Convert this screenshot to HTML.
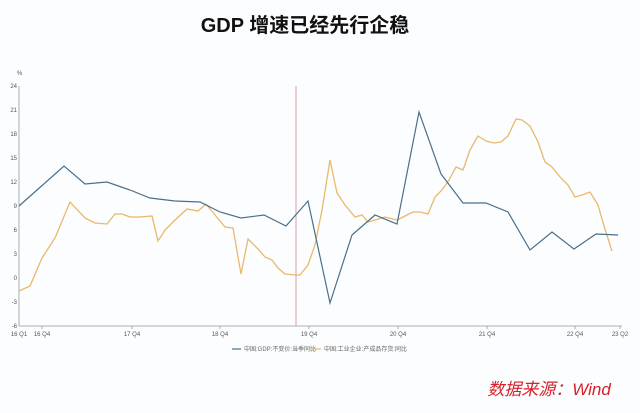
<!DOCTYPE html>
<html><head><meta charset="utf-8"><style>
body{margin:0;width:640px;height:413px;background:#fcfdff;overflow:hidden;font-family:"Liberation Sans","Noto Sans CJK SC",sans-serif}
</style></head><body>
<svg width="640" height="413" xmlns="http://www.w3.org/2000/svg" style="position:absolute;left:0;top:0">
<text x="305" y="32" text-anchor="middle" font-size="20" font-weight="bold" fill="#111" font-family="Liberation Sans,Noto Sans CJK SC,sans-serif">GDP 增速已经先行企稳</text>
<text x="17" y="75" font-size="6" fill="#555">%</text>
<g font-size="6" fill="#555" text-anchor="end">
<text x="17" y="88">24</text><text x="17" y="112">21</text><text x="17" y="136">18</text><text x="17" y="160">15</text><text x="17" y="184">12</text><text x="17" y="208">9</text><text x="17" y="232">6</text><text x="17" y="256">3</text><text x="17" y="280">0</text><text x="17" y="304">-3</text><text x="17" y="328">-6</text>
</g>
<line x1="19" y1="86" x2="19" y2="326" stroke="#999" stroke-width="0.8"/>
<line x1="19" y1="326" x2="622" y2="326" stroke="#999" stroke-width="0.8"/>
<g stroke="#999" stroke-width="0.8">
<line x1="42" y1="326" x2="42" y2="329"/><line x1="132" y1="326" x2="132" y2="329"/><line x1="220" y1="326" x2="220" y2="329"/><line x1="309" y1="326" x2="309" y2="329"/><line x1="398" y1="326" x2="398" y2="329"/><line x1="487" y1="326" x2="487" y2="329"/><line x1="575" y1="326" x2="575" y2="329"/><line x1="620" y1="326" x2="620" y2="329"/>
</g>
<g font-size="6" fill="#555" text-anchor="middle">
<text x="19" y="336">16 Q1</text><text x="42" y="336">16 Q4</text><text x="132" y="336">17 Q4</text><text x="220" y="336">18 Q4</text><text x="309" y="336">19 Q4</text><text x="398" y="336">20 Q4</text><text x="487" y="336">21 Q4</text><text x="575" y="336">22 Q4</text><text x="620" y="336">23 Q2</text>
</g>
<line x1="296" y1="86" x2="296" y2="326" stroke="#d9a0a8" stroke-width="1"/>
<polyline fill="none" stroke="#e9b96a" stroke-width="1.3" points="19,291 30,286 42,258 55,238 70,202 85,218 95,223 107,224 115,214 122,214 130,217 140,217 152,216 158,241 165,230 175,220 187,209 198,211 206,204 215,215 225,227 233,228 241,274 248,239 258,249 265,257 272,260 278,268 285,274 295,275 300,275 308,265 315,245 322,210 330,160 337,193 345,205 355,217 362,215 368,222 375,220 385,217 397,220 405,216 413,212 420,212 428,214 435,197 442,190 449,180 456,167 463,170 470,150 478,136 486,141 494,143 501,142 508,136 516,119 522,120 530,126 538,142 545,162 552,167 560,177 568,185 575,197 582,195 590,192 598,205 604,226 612,251"/>
<polyline fill="none" stroke="#4a6f8a" stroke-width="1.2" points="19,206 64,166 85,184 107,182 130,190 150,198 175,201 200,202 220,212 241,218 264,215 286,226 308,201 330,303 352,235 375,215 397,224 419,112 441,174 463,203 486,203 508,212 530,250 552,232 574,249 596,234 618,235"/>
<line x1="232" y1="349" x2="241" y2="349" stroke="#4a6f8a" stroke-width="1.2"/>
<text x="244" y="351" font-size="6" fill="#666">中国:GDP:不变价:当季同比</text>
<line x1="312" y1="349" x2="321" y2="349" stroke="#e9b96a" stroke-width="1.2"/>
<text x="324" y="351" font-size="6" fill="#666">中国:工业企业:产成品存货:同比</text>
<text x="549" y="395" text-anchor="middle" font-size="17" font-style="italic" fill="#d8202a">数据来源：Wind</text>
</svg>
</body></html>
